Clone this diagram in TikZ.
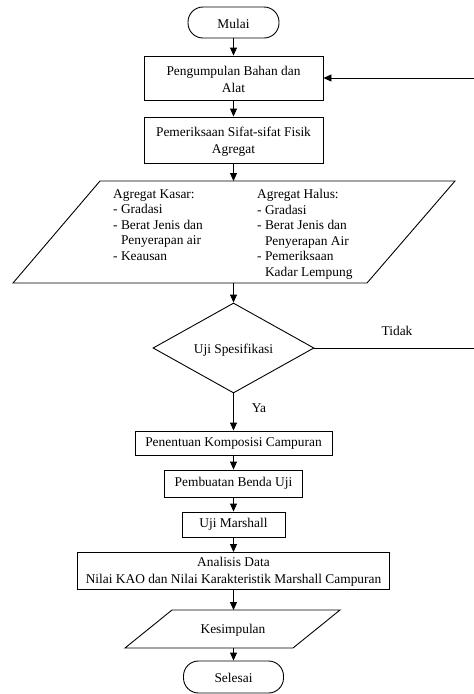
\documentclass[tikz,border=0pt]{standalone}
\usepackage{fontspec}
\setmainfont{Liberation Serif}
\usetikzlibrary{shapes.geometric,arrows.meta}
\begin{document}
\begin{tikzpicture}[x=1pt,y=-1pt,
  every node/.style={font=\rmfamily\fontsize{13.4}{15.5}\selectfont},
  ln/.style={line width=0.9pt},
  box/.style={draw,ln,rectangle,align=center,inner sep=0pt},
  term/.style={draw,ln,rectangle,rounded corners=15pt,inner sep=0pt},
  arr/.style={ln,-{Triangle[length=8pt,width=7pt]}},
  txt/.style={inner sep=0pt},
  line/.style={inner sep=0pt,anchor=base}]
\useasboundingbox (0,0) rectangle (474,694);
% terminals and boxes
\node[term,minimum width=91pt,minimum height=31pt] (mulai) at (233.5,22.5) {};
\node[line] (mulaiT) at (233.5,28) {Mulai};
\node[box,minimum width=179pt,minimum height=44pt] (b1) at (233.5,78) {};
\node[line] (b1a) at (233.5,75) {Pengumpulan Bahan dan};
\node[line] (b1b) at (233.5,92) {Alat};
\node[box,minimum width=179pt,minimum height=46pt] (b2) at (233.5,140) {};
\node[line] (b2a) at (233.5,136) {Pemeriksaan Sifat-sifat Fisik};
\node[line] (b2b) at (233.5,153) {Agregat};
% input parallelogram
\coordinate (p1) at (100,181);
\coordinate (p2) at (455,181);
\coordinate (p3) at (367,283);
\coordinate (p4) at (13,283);
\coordinate (ptop) at (233.5,181);
\coordinate (pbot) at (233.5,283);
\draw[ln] (p1) -- (p2) -- (p3) -- (p4) -- cycle;
\node[txt,anchor=north west,align=left] (kasar) at (113,189) {Agregat Kasar:\\- Gradasi\\- Berat Jenis dan\\\phantom{- }Penyerapan air\\- Keausan};
\node[txt,anchor=north west,align=left] (halus) at (257,189) {Agregat Halus:\\- Gradasi\\- Berat Jenis dan\\\phantom{- }Penyerapan Air\\- Pemeriksaan\\\phantom{- }Kadar Lempung};
% decision
\node[draw,ln,diamond,aspect=1.8,inner sep=0pt,minimum width=161pt,minimum height=90pt] (dec) at (233.5,348) {};
\node[line] (decT) at (233.5,353) {Uji Spesifikasi};
\coordinate (tidakEnd) at (474,348);
\coordinate (backStart) at (474,78);
\node[txt] (tidak) at (397,331) {Tidak};
\node[txt] (ya) at (259,408) {Ya};
% process boxes
\node[box,minimum width=197pt,minimum height=24pt] (b3) at (233.5,443) {Penentuan Komposisi Campuran};
\node[box,minimum width=138pt,minimum height=27pt] (b4) at (233.5,483.5) {Pembuatan Benda Uji};
\node[box,minimum width=103pt,minimum height=25pt] (b5) at (233.5,524.5) {Uji Marshall};
\node[box,minimum width=312pt,minimum height=37pt] (b6) at (233.5,571) {};
\node[line] (b6a) at (233.5,566) {Analisis Data};
\node[line] (b6b) at (233.5,583) {Nilai KAO dan Nilai Karakteristik Marshall Campuran};
% output parallelogram
\coordinate (k1) at (172,610);
\coordinate (k2) at (340,610);
\coordinate (k3) at (293,648);
\coordinate (k4) at (125,648);
\coordinate (ktop) at (233.5,610);
\coordinate (kbot) at (233.5,648);
\draw[ln] (k1) -- (k2) -- (k3) -- (k4) -- cycle;
\node[line] (kes) at (233,633) {Kesimpulan};
\node[term,minimum width=100pt,minimum height=32pt] (sel) at (233.5,677) {};
\node[line] (selT) at (233.5,682) {Selesai};
% connectors
\draw[arr] (mulai.south) -- (b1.north);
\draw[arr] (b1.south) -- (b2.north);
\draw[arr] (b2.south) -- (ptop);
\draw[arr] (pbot) -- (dec.north);
\draw[ln] (dec.east) -- (tidakEnd);
\draw[arr] (backStart) -- (b1.east);
\draw[arr] (dec.south) -- (b3.north);
\draw[arr] (b3.south) -- (b4.north);
\draw[arr] (b4.south) -- (b5.north);
\draw[arr] (b5.south) -- (b6.north);
\draw[arr] (b6.south) -- (ktop);
\draw[arr] (kbot) -- (sel.north);
\end{tikzpicture}
\end{document}
